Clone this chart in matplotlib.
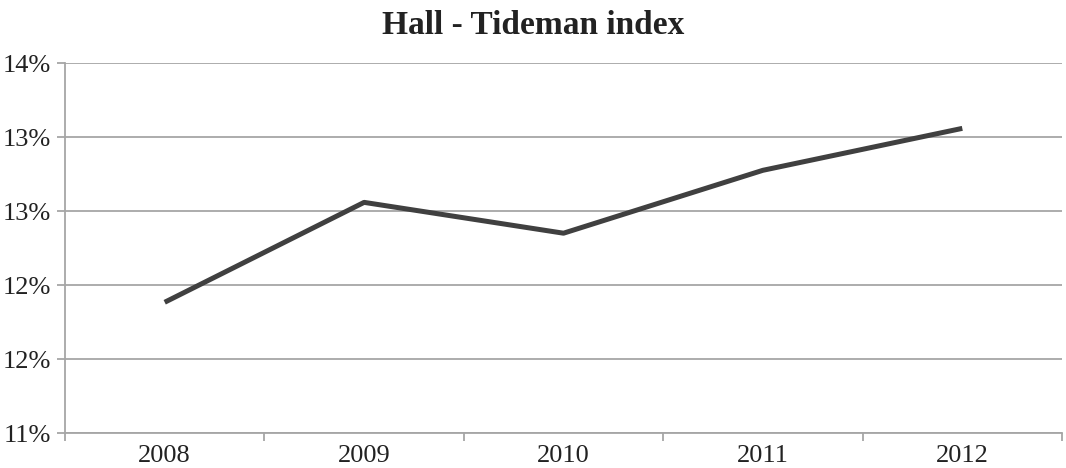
import matplotlib
matplotlib.use('Agg')
import matplotlib.pyplot as plt
import numpy as np
from matplotlib.ticker import FuncFormatter

# Data (in percent)
years = ['2008', '2009', '2010', '2011', '2012']
hall_tideman = [12.06, 12.87, 12.62, 13.13, 13.47]
y_ticks = [11.0, 11.6, 12.2, 12.8, 13.4, 14.0]

plt.rcParams['font.family'] = ['Liberation Serif', 'DejaVu Serif']

fig = plt.figure(figsize=(10.66, 4.68), dpi=100)
ax = fig.add_axes([65 / 1066, 35 / 468, 997 / 1066, 370 / 468])

x = np.arange(len(years))
ax.plot(x, hall_tideman, color='#404040', linewidth=3.6, solid_capstyle='butt')

ax.set_xlim(-0.5, len(years) - 0.5)
ax.set_ylim(11, 14)
ax.set_yticks(y_ticks)
ax.yaxis.set_major_formatter(FuncFormatter(lambda v, p: f"{v:.0f}%"))
ax.set_xticks(x)
ax.set_xticklabels(years)
ax.set_xticks(np.arange(-0.5, len(years)), minor=True)

grid_col = '#a6a6a6'
ax.grid(axis='y', color=grid_col, linewidth=1.3)
ax.set_axisbelow(True)
for s in ['top', 'right']:
    ax.spines[s].set_visible(False)
for s in ['left', 'bottom']:
    ax.spines[s].set_color(grid_col)
    ax.spines[s].set_linewidth(1.3)

ax.tick_params(axis='y', length=6, color=grid_col, width=1.3, labelsize=19, pad=4, labelcolor='#222222')
ax.tick_params(axis='x', which='major', length=0, labelsize=19, pad=9, labelcolor='#222222')
ax.tick_params(axis='x', which='minor', length=6, color=grid_col, width=1.3)

fig.suptitle('Hall - Tideman index', fontsize=24, fontweight='bold', y=1 - 25 / 468, va='center', color='#222222')

fig.savefig('out.png', dpi=100)
